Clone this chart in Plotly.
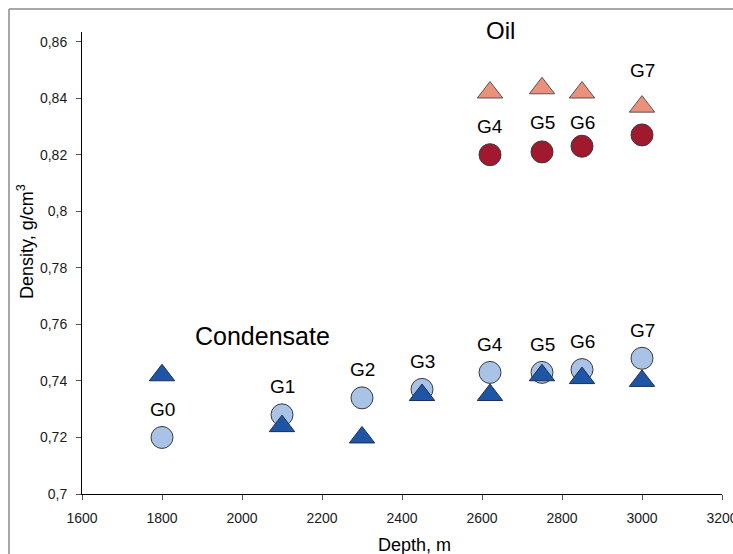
import plotly.graph_objects as go

# Depth (m) of each sampled well group
cond_depth = [1800, 2100, 2300, 2450, 2620, 2750, 2850, 3000]
cond_labels = ["G0", "G1", "G2", "G3", "G4", "G5", "G6", "G7"]
# Condensate density, g/cm3: two measurement sets per group
cond_density_a = [0.720, 0.728, 0.734, 0.737, 0.743, 0.743, 0.744, 0.748]
cond_density_b = [0.742, 0.724, 0.720, 0.735, 0.735, 0.742, 0.741, 0.740]

oil_depth = [2620, 2750, 2850, 3000]
oil_labels = ["G4", "G5", "G6", "G7"]
# Oil density, g/cm3: two measurement sets per group
oil_density_a = [0.820, 0.821, 0.823, 0.827]
oil_density_b = [0.842, 0.8435, 0.842, 0.837]

x_ticks = [1600, 1800, 2000, 2200, 2400, 2600, 2800, 3000, 3200]
x_tick_text = ["1600", "1800", "2000", "2200", "2400", "2600", "2800", "3000", "3200"]
y_ticks = [0.70, 0.72, 0.74, 0.76, 0.78, 0.80, 0.82, 0.84, 0.86]
y_tick_text = ["0,7", "0,72", "0,74", "0,76", "0,78", "0,8", "0,82", "0,84", "0,86"]

FONT = "Liberation Sans, Arial, sans-serif"
LIGHT_BLUE = "#A9C3E7"
DARK_BLUE = "#1F55A5"
SALMON = "#E9917A"
DARK_RED = "#A1192E"

fig = go.Figure()

fig.add_trace(go.Scatter(
    x=cond_depth, y=cond_density_a, mode="markers",
    marker=dict(symbol="circle", size=22, color=LIGHT_BLUE,
                line=dict(color="#3a3a3a", width=1)),
    cliponaxis=False, showlegend=False))
fig.add_trace(go.Scatter(
    x=cond_depth, y=cond_density_b, mode="markers",
    marker=dict(symbol="triangle-up", size=22, color=DARK_BLUE,
                line=dict(color="#1a2f55", width=1)),
    cliponaxis=False, showlegend=False))
fig.add_trace(go.Scatter(
    x=oil_depth, y=oil_density_a, mode="markers",
    marker=dict(symbol="circle", size=22, color=DARK_RED,
                line=dict(color="#3a3a3a", width=1)),
    cliponaxis=False, showlegend=False))
fig.add_trace(go.Scatter(
    x=oil_depth, y=oil_density_b, mode="markers",
    marker=dict(symbol="triangle-up", size=22, color=SALMON,
                line=dict(color="#555555", width=1)),
    cliponaxis=False, showlegend=False))

annotations = []
label_font = dict(family=FONT, size=19, color="#000000")

# group names above the condensate points
for x, y, t in zip(cond_depth, cond_density_a, cond_labels):
    annotations.append(dict(x=x, y=y, xref="x", yref="y", text=t, showarrow=False,
                            xanchor="center", yanchor="middle",
                            yshift=28, font=label_font))

# group names between the oil pairs (G7 sits above its pair)
oil_shift = [28, 29, 24, 64]
for x, y, t, s in zip(oil_depth, oil_density_a, oil_labels, oil_shift):
    annotations.append(dict(x=x, y=y, xref="x", yref="y", text=t, showarrow=False,
                            xanchor="center", yanchor="middle",
                            yshift=s, font=label_font))

annotations += [
    dict(x=(500 - 82) / 640, y=(494 - 31) / 462, xref="paper", yref="paper",
         text="Oil", showarrow=False, xanchor="center", yanchor="middle",
         font=dict(family=FONT, size=24, color="#000000")),
    dict(x=(262 - 82) / 640, y=(494 - 336) / 462, xref="paper", yref="paper",
         text="Condensate", showarrow=False, xanchor="center", yanchor="middle",
         font=dict(family=FONT, size=25, color="#000000")),
    dict(x=(414 - 82) / 640, y=-(545 - 494) / 462, xref="paper", yref="paper",
         text="Depth, m", showarrow=False, xanchor="center", yanchor="middle",
         font=dict(family=FONT, size=18, color="#000000")),
    dict(x=-(82 - 25) / 640, y=(494 - 242) / 462, xref="paper", yref="paper",
         text="Density, g/cm<sup>3</sup>", textangle=-90, showarrow=False,
         xanchor="center", yanchor="middle",
         font=dict(family=FONT, size=18, color="#000000")),
]

# outer chart frame (top and left edges)
frame_x0 = -(82 - 9) / 640
frame_y0 = (494 - 9) / 462
shapes = [
    dict(type="line", xref="paper", yref="paper", x0=frame_x0, x1=1.2,
         y0=frame_y0, y1=frame_y0, line=dict(color="#8a8a8a", width=1.5)),
    dict(type="line", xref="paper", yref="paper", x0=frame_x0, x1=frame_x0,
         y0=frame_y0, y1=-0.3, line=dict(color="#8a8a8a", width=1.5)),
]

axis_common = dict(showgrid=False, zeroline=False, showline=True, linecolor="#000000",
                   linewidth=1, ticks="outside", ticklen=5, tickcolor="#555555",
                   ticklabeloverflow="allow", automargin=False,
                   tickfont=dict(family=FONT, size=14, color="#1a1a1a"))

fig.update_layout(
    width=733, height=554,
    margin=dict(l=82, r=11, t=32, b=60, autoexpand=False),
    paper_bgcolor="#ffffff", plot_bgcolor="#ffffff",
    xaxis=dict(range=[1600, 3200], tickvals=x_ticks, ticktext=x_tick_text,
               ticklabelstandoff=6, **axis_common),
    yaxis=dict(range=[0.7, 0.8634], tickvals=y_ticks, ticktext=y_tick_text,
               ticklabelstandoff=6, **axis_common),
    annotations=annotations,
    shapes=shapes,
)

fig.write_html("out.html")
